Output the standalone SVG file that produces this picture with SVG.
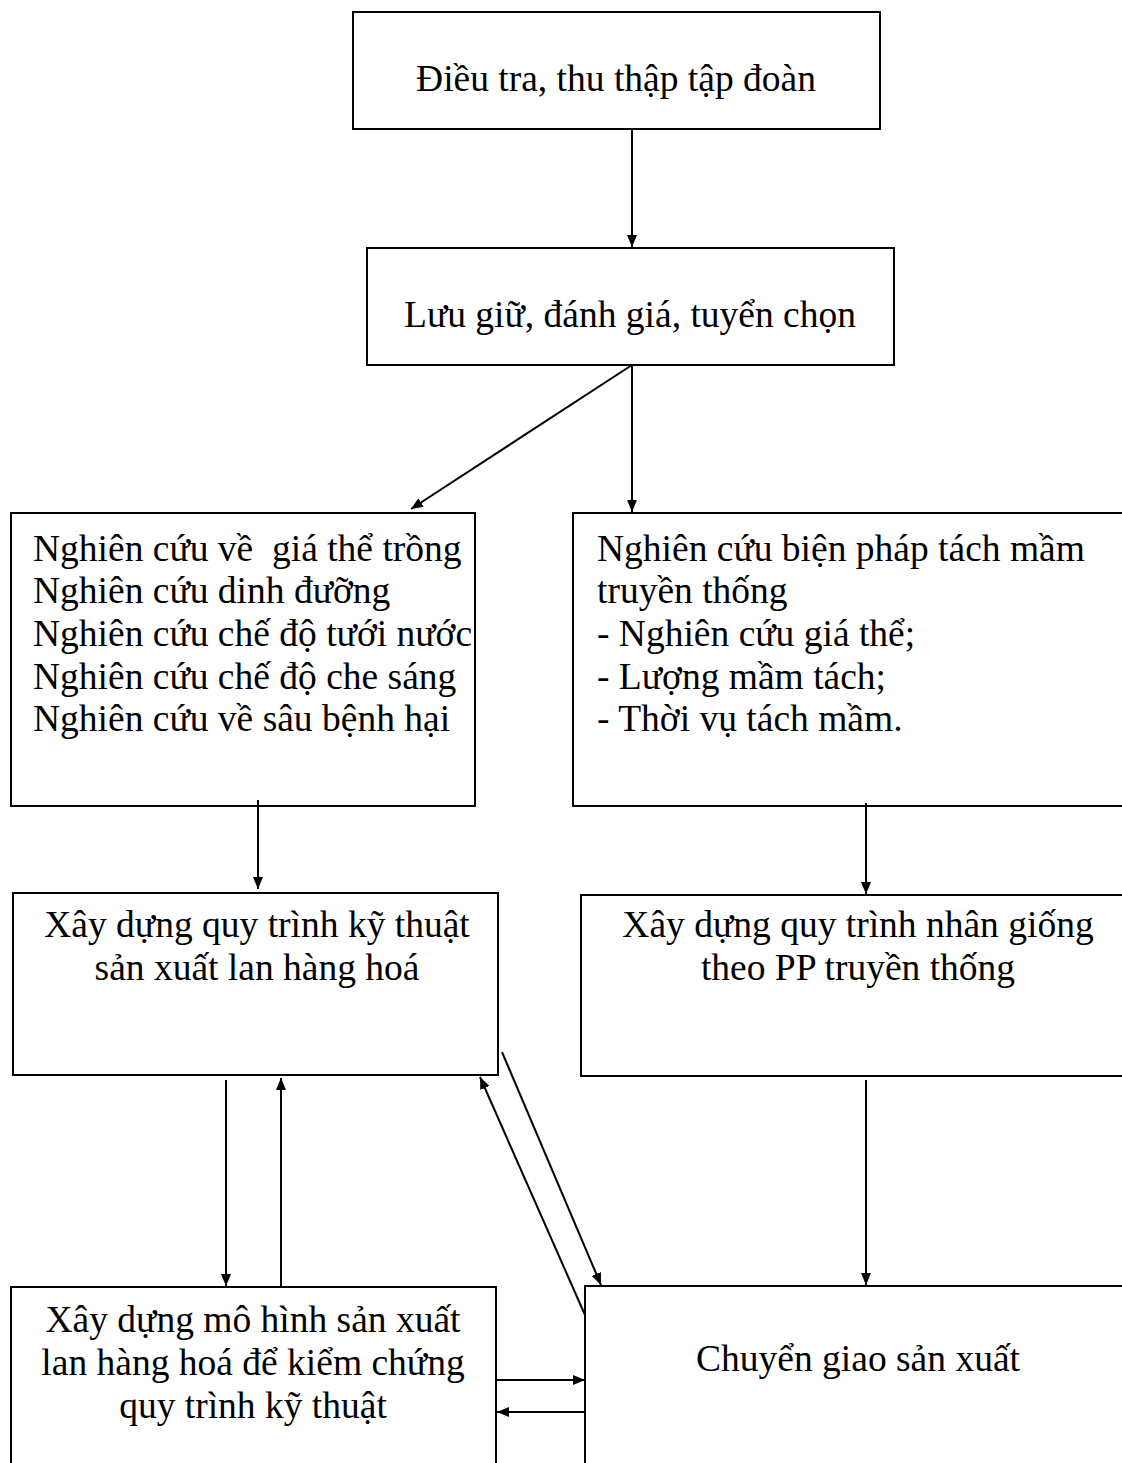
<svg xmlns="http://www.w3.org/2000/svg" width="1122" height="1463" viewBox="0 0 1122 1463">
<style>
.box{fill:#fff;stroke:#000;stroke-width:2}
.t{font-family:"Liberation Serif","Times New Roman",serif;font-size:37.5px;fill:#000}
.c{text-anchor:middle}
.ln{stroke:#000;stroke-width:2;fill:none}
</style>
<defs>
<marker id="ah" viewBox="0 0 12 10" refX="12" refY="5" markerWidth="12" markerHeight="10" markerUnits="userSpaceOnUse" orient="auto">
<path d="M0,0 L12,5 L0,10 Z" fill="#000"/>
</marker>
</defs>
<rect width="1122" height="1463" fill="#fff"/>
<g id="n1"><rect class="box" x="353" y="12" width="527" height="117"/><text class="t c" x="616" y="91">Điều tra, thu thập tập đoàn</text></g>
<g id="n2"><rect class="box" x="367" y="248" width="527" height="117"/><text class="t c" x="630" y="327">Lưu giữ, đánh giá, tuyển chọn</text></g>
<g id="n3"><rect class="box" x="11" y="513" width="464" height="293"/>
<text class="t" xml:space="preserve"><tspan x="33" y="561">Nghiên cứu về  giá thể trồng</tspan><tspan x="33" y="603">Nghiên cứu dinh đưỡng</tspan><tspan x="33" y="646">Nghiên cứu chế độ tưới nước</tspan><tspan x="33" y="689">Nghiên cứu chế độ che sáng</tspan><tspan x="33" y="731">Nghiên cứu về sâu bệnh hại</tspan></text></g>
<g id="n4"><rect class="box" x="573" y="513" width="560" height="293"/>
<text class="t"><tspan x="597" y="561">Nghiên cứu biện pháp tách mầm</tspan><tspan x="597" y="603">truyền thống</tspan><tspan x="597" y="646">- Nghiên cứu giá thể;</tspan><tspan x="597" y="689">- Lượng mầm tách;</tspan><tspan x="597" y="731">- Thời vụ tách mầm.</tspan></text></g>
<g id="n5"><rect class="box" x="13" y="893" width="485" height="182"/>
<text class="t c"><tspan x="257" y="937">Xây dựng quy trình kỹ thuật</tspan><tspan x="257" y="980">sản xuất lan hàng hoá</tspan></text></g>
<g id="n6"><rect class="box" x="581" y="895" width="560" height="181"/>
<text class="t c"><tspan x="858" y="937">Xây dựng quy trình nhân giống</tspan><tspan x="858" y="980">theo PP truyền thống</tspan></text></g>
<g id="n7"><rect class="box" x="11" y="1287" width="485" height="200"/>
<text class="t c"><tspan x="253" y="1332">Xây dựng mô hình sản xuất</tspan><tspan x="253" y="1375">lan hàng hoá để kiểm chứng</tspan><tspan x="253" y="1418">quy trình kỹ thuật</tspan></text></g>
<g id="n8"><rect class="box" x="585" y="1286" width="560" height="200"/>
<text class="t c" x="858" y="1371">Chuyển giao sản xuất</text></g>
<g id="connectors">
<line class="ln" x1="632" y1="129" x2="632" y2="247" marker-end="url(#ah)"/>
<line class="ln" x1="632" y1="365" x2="411" y2="509" marker-end="url(#ah)"/>
<line class="ln" x1="632" y1="365" x2="632" y2="512" marker-end="url(#ah)"/>
<line class="ln" x1="258" y1="800" x2="258" y2="889" marker-end="url(#ah)"/>
<line class="ln" x1="866" y1="803" x2="866" y2="894" marker-end="url(#ah)"/>
<line class="ln" x1="866" y1="1080" x2="866" y2="1285" marker-end="url(#ah)"/>
<line class="ln" x1="226" y1="1080" x2="226" y2="1286" marker-end="url(#ah)"/>
<line class="ln" x1="281" y1="1287" x2="281" y2="1078" marker-end="url(#ah)"/>
<line class="ln" x1="502" y1="1052" x2="601" y2="1285" marker-end="url(#ah)"/>
<line class="ln" x1="585" y1="1315" x2="480" y2="1077" marker-end="url(#ah)"/>
<line class="ln" x1="497" y1="1380" x2="585" y2="1380" marker-end="url(#ah)"/>
<line class="ln" x1="585" y1="1412" x2="497" y2="1412" marker-end="url(#ah)"/>
</g>
</svg>
